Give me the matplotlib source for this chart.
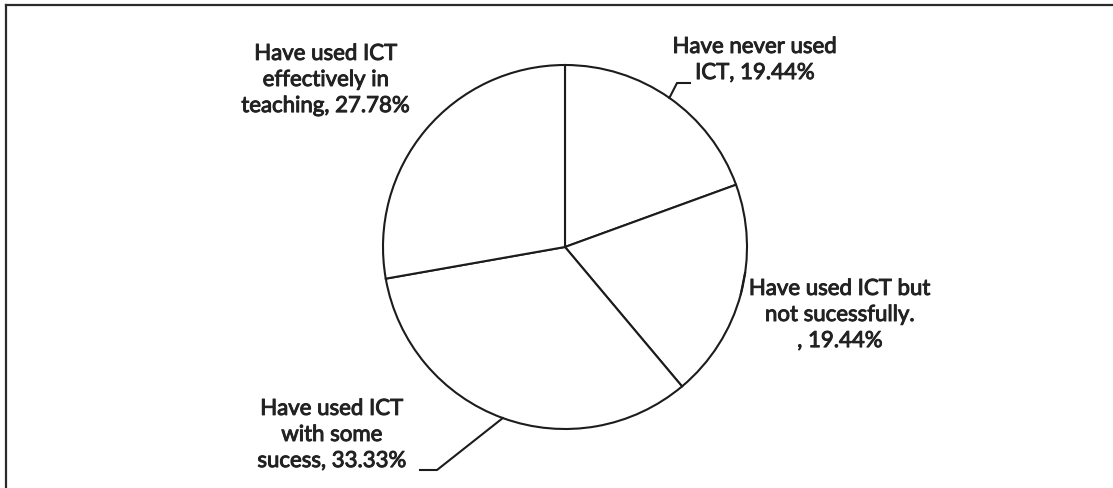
import numpy as np
import matplotlib.pyplot as plt
import matplotlib.patheffects as pe

# data
labels = ['Have never used\nICT, 19.44%',
          'Have used ICT but\nnot sucessfully.\n, 19.44%',
          'Have used ICT\nwith some\nsucess, 33.33%',
          'Have used ICT\neffectively in\nteaching, 27.78%']
shares = [19.44, 19.44, 33.33, 27.78]

plt.rcParams['font.family'] = ['Lato', 'DejaVu Sans']

W, H = 1113, 488
fig = plt.figure(figsize=(W / 100, H / 100), dpi=100)
ax = fig.add_axes([0, 0, 1, 1])

ink = '#1c1c1c'
cx, cy, r = 565, H - 247, 182
wedges, _ = ax.pie(shares, startangle=90, counterclock=False,
                   center=(cx, cy), radius=r,
                   colors=['white'] * 4,
                   wedgeprops=dict(edgecolor=ink, linewidth=1.5))

ax.set_xlim(0, W)
ax.set_ylim(0, H)
ax.set_aspect('equal')
ax.axis('off')


def edge_point(w):
    a = np.deg2rad((w.theta1 + w.theta2) / 2)
    return cx + r * np.cos(a), cy + r * np.sin(a)


# label positions (pixel coords, y up)
text_pos = [(755, H - 60), (840, H - 315), (332, H - 435), (326, H - 80)]
for lab, (tx, ty) in zip(labels, text_pos):
    ax.text(tx, ty, lab, ha='center', va='center', ma='center',
            fontsize=16, color='#222222', linespacing=1.38,
            path_effects=[pe.withStroke(linewidth=0.7, foreground='#222222')])

# leader lines
px, py = edge_point(wedges[0])
ax.plot([px, 677, 690], [py, H - 83, H - 83], color=ink, lw=1.5)
px, py = edge_point(wedges[1])
ax.plot([px, 745], [py, H - 273], color=ink, lw=1.5)
px, py = edge_point(wedges[2])
ax.plot([px, 437, 420], [py, H - 470, H - 470], color=ink, lw=1.5)

# scanned frame (top and left edges)
ax.plot([6, W], [H - 5, H - 5], color='#2a2a2a', lw=1.6, clip_on=False)
ax.plot([6, 6], [H - 5, 0], color='#2a2a2a', lw=1.6, clip_on=False)

plt.savefig('out.png', dpi=100)
